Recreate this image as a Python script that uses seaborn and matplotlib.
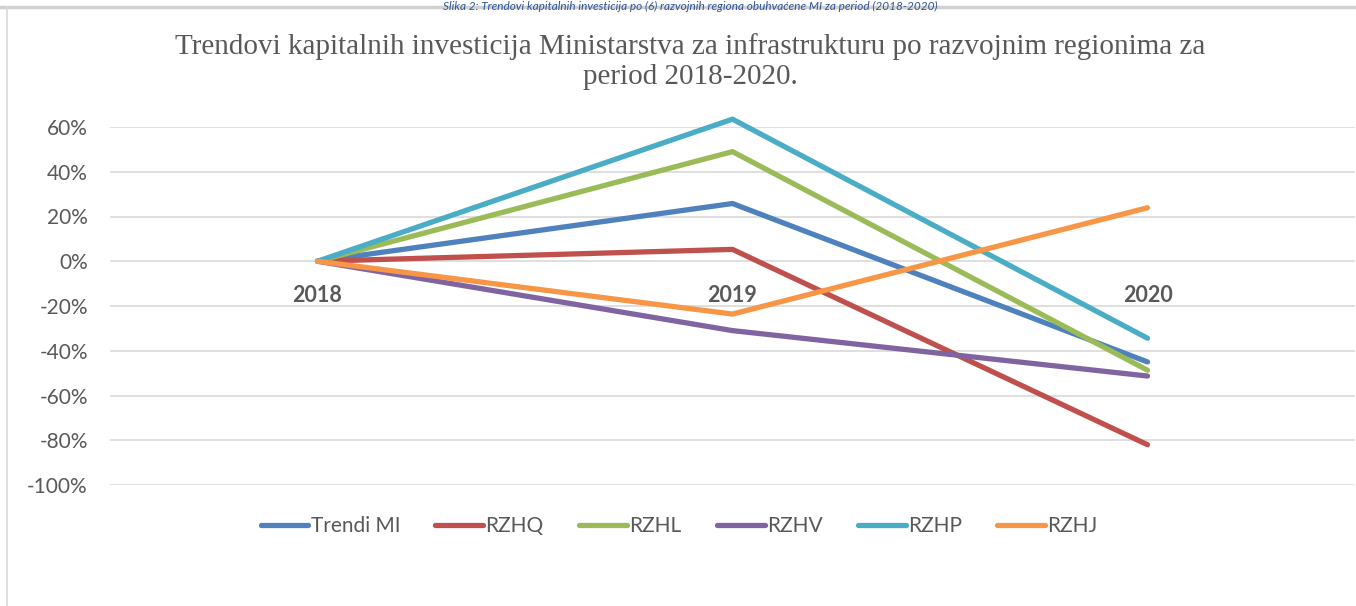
import numpy as np
import pandas as pd
import matplotlib
matplotlib.use('Agg')
import matplotlib.pyplot as plt
import seaborn as sns
from matplotlib.lines import Line2D
from matplotlib.ticker import FuncFormatter

# values (share change vs 2018)
years = ['2018', '2019', '2020']
series_names = ['Trendi MI', 'RZHQ', 'RZHL', 'RZHV', 'RZHP', 'RZHJ']
trendi_mi = [0.0, 0.258, -0.45]
rzhq = [0.0, 0.053, -0.82]
rzhl = [0.0, 0.49, -0.487]
rzhv = [0.0, -0.31, -0.513]
rzhp = [0.0, 0.635, -0.344]
rzhj = [0.0, -0.236, 0.239]
colors = ['#4F81BD', '#C0504D', '#9BBB59', '#8064A2', '#4BACC6', '#F79646']

rows = []
for name, vals in zip(series_names, [trendi_mi, rzhq, rzhl, rzhv, rzhp, rzhj]):
    for i, v in enumerate(vals):
        rows.append({'pos': i, 'year': years[i], 'serija': name, 'vrijednost': v})
df = pd.DataFrame(rows)

sns.set_theme(style='white')
plt.rcParams['font.family'] = ['Lato', 'DejaVu Sans']

fig = plt.figure(figsize=(13.56, 6.06), dpi=100)
ax = fig.add_axes([110 / 1356, 1 - 485 / 606, 1245 / 1356, (485 - 127) / 606])

sns.lineplot(data=df, x='pos', y='vrijednost', hue='serija', hue_order=series_names,
             palette=colors, linewidth=3.8, ax=ax, legend=False)
for ln in ax.lines:
    ln.set_clip_on(False)
    ln.set_solid_capstyle('round')
    ln.set_solid_joinstyle('round')

ax.set_xlim(-0.5, 2.5)
ax.set_ylim(-1.0, 0.6)
ax.set_yticks(np.arange(-1.0, 0.61, 0.2))
ax.yaxis.set_major_formatter(FuncFormatter(lambda v, p: f'{round(v * 100):d}%'))
ax.grid(axis='y', color='#D9D9D9', linewidth=1.2)
ax.set_axisbelow(True)
for s in ax.spines.values():
    s.set_visible(False)
ax.spines['bottom'].set_position(('data', 0))
ax.set_xticks(range(len(years)))
ax.set_xticklabels(years, fontweight='bold')
ax.tick_params(axis='x', length=0, pad=17, labelsize=15.5, labelcolor='#595959')
ax.tick_params(axis='y', length=0, pad=16, labelsize=15, labelcolor='#595959')
ax.set_xlabel('')
ax.set_ylabel('')

fig.text(0.509, 1 - 62 / 606,
         'Trendovi kapitalnih investicija Ministarstva za infrastrukturu po razvojnim regionima za\nperiod 2018-2020.',
         ha='center', va='center', fontsize=21, color='#595959',
         family=['Liberation Serif', 'DejaVu Serif'], linespacing=1.2)

# caption of the page above the chart box
fig.text(0.509, 1 - 0.5 / 606,
         'Slika 2: Trendovi kapitalnih investicija po (6) razvojnih regiona obuhvaćene MI za period (2018-2020)',
         ha='center', va='top', fontsize=8.5, color='#2E5597', style='italic', zorder=5)

# frame of the chart box
fig.add_artist(Line2D([0, 1], [1 - 7 / 606, 1 - 7 / 606], color='#D0D0D0', linewidth=2.5, zorder=1))
fig.add_artist(Line2D([7 / 1356, 7 / 1356], [0, 1 - 7 / 606], color='#D9D9D9', linewidth=1.2, zorder=1))

handles = [Line2D([], [], color=c, linewidth=3.8, solid_capstyle='round') for c in colors]
fig.legend(handles, series_names, loc='center', bbox_to_anchor=(679 / 1356, 1 - 526 / 606),
           ncol=6, frameon=False, fontsize=15, handlelength=2.3, handletextpad=0.1,
           columnspacing=1.7, labelcolor='#595959')

fig.savefig('out.png', dpi=100)
